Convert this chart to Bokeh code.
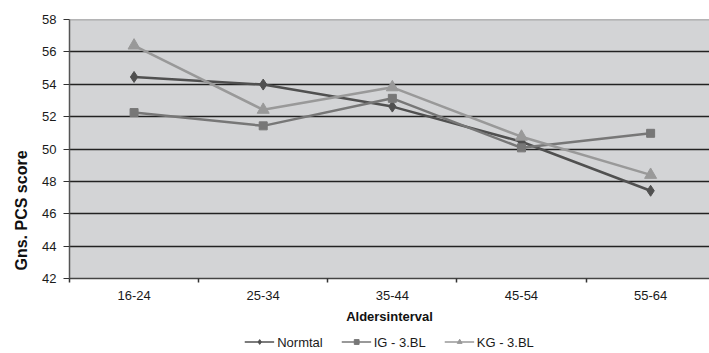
from bokeh.plotting import figure
from bokeh.models import (Range1d, FixedTicker, Legend, LegendItem, Span, Title)
from bokeh.layouts import column
from bokeh.embed import file_html
from bokeh.resources import INLINE

# ---- data ----
categories = ["16-24", "25-34", "35-44", "45-54", "55-64"]
normtal = [54.45, 53.98, 52.62, 50.45, 47.42]
ig_3bl = [52.25, 51.43, 53.13, 50.07, 50.97]
kg_3bl = [56.39, 52.42, 53.81, 50.76, 48.40]
y_ticks = [42, 44, 46, 48, 50, 52, 54, 56, 58]
series_names = ["Normtal", "IG - 3.BL", "KG - 3.BL"]

xs = list(range(len(categories)))

FONT = "Liberation Sans"
C1, C2, C3 = "#505050", "#777777", "#999999"

p = figure(width=709, height=330, output_backend="svg", toolbar_location=None,
           x_range=Range1d(-0.5, len(categories) - 0.544),
           y_range=Range1d(y_ticks[0], y_ticks[-1]),
           min_border_left=67, min_border_right=0, min_border_top=19,
           min_border_bottom=52)

p.background_fill_color = "#d3d4d6"
p.border_fill_color = "white"
p.outline_line_color = None

# grid
p.xgrid.visible = False
p.ygrid.ticker = FixedTicker(ticks=y_ticks[1:-1])
p.ygrid.grid_line_color = "#222222"
p.ygrid.grid_line_width = 1.4

top = Span(location=y_ticks[-1], dimension="width", line_color="#808080", line_width=1.5)
p.add_layout(top)

# y axis
ya = p.yaxis[0]
ya.ticker = FixedTicker(ticks=y_ticks)
ya.major_label_text_font = FONT
ya.major_label_text_font_size = "13px"
ya.major_label_text_color = "#1a1a1a"
ya.major_label_standoff = 7
ya.major_tick_out = 6
ya.major_tick_in = 0
ya.minor_tick_out = 0
ya.minor_tick_in = 0
ya.axis_line_color = "#555555"
ya.axis_line_width = 1.5
ya.major_tick_line_color = "#333333"

ytitle = Title(text="Gns. PCS score", align="left", offset=8,
               text_font=FONT, text_font_size="16px", text_font_style="bold",
               text_color="#111111", standoff=20)
p.add_layout(ytitle, "left")

# x axis
xa = p.xaxis[0]
xa.ticker = FixedTicker(ticks=xs, minor_ticks=[i - 0.5 for i in range(len(categories) + 1)])
xa.major_label_overrides = {i: c for i, c in enumerate(categories)}
xa.axis_label = "Aldersinterval"
xa.axis_label_text_font = FONT
xa.axis_label_text_font_style = "bold"
xa.axis_label_text_font_size = "13px"
xa.axis_label_text_color = "#111111"
xa.axis_label_standoff = 6
xa.major_label_text_font = FONT
xa.major_label_text_font_size = "13px"
xa.major_label_text_color = "#1a1a1a"
xa.major_label_standoff = 8
xa.major_tick_out = 0
xa.major_tick_in = 0
xa.minor_tick_out = 4
xa.minor_tick_in = 0
xa.minor_tick_line_color = "#333333"
xa.minor_tick_line_width = 1.5
xa.axis_line_color = "#444444"
xa.axis_line_width = 1.5

# series
series = [(normtal, C1, "diamond", 11), (ig_3bl, C2, "square", 8), (kg_3bl, C3, "triangle", 12)]
for ys, col, mk, sz in series:
    p.line(xs, ys, line_color=col, line_width=2.5)
    p.scatter(xs, ys, marker=mk, size=sz, fill_color=col, line_color=col)

# legend strip below the chart (its own renderers sit outside its visible range)
lg = figure(width=709, height=23, output_backend="svg", toolbar_location=None,
            x_range=Range1d(0, 1), y_range=Range1d(0, 1),
            min_border_left=67, min_border_right=0, min_border_top=0, min_border_bottom=0)
lg.axis.visible = False
lg.grid.visible = False
lg.outline_line_color = None
lg.background_fill_color = "white"
lg.border_fill_color = "white"

items = []
for name, (ys, col, mk, sz) in zip(series_names, series):
    r1 = lg.line(xs, ys, line_color=col, line_width=1.5)
    r2 = lg.scatter(xs, ys, marker=mk, size=sz - 2, fill_color=col, line_color=col)
    items.append(LegendItem(label=name, renderers=[r1, r2], index=0))

legend = Legend(items=items, orientation="horizontal", location="center")
legend.label_text_font = FONT
legend.label_text_font_size = "13px"
legend.label_text_color = "#1a1a1a"
legend.glyph_width = 30
legend.glyph_height = 12
legend.label_standoff = 3
legend.spacing = 18
legend.padding = 0
legend.margin = 0
legend.border_line_color = None
legend.background_fill_alpha = 0
lg.add_layout(legend)

open("out.html", "w").write(file_html(column(p, lg, spacing=0), INLINE))
